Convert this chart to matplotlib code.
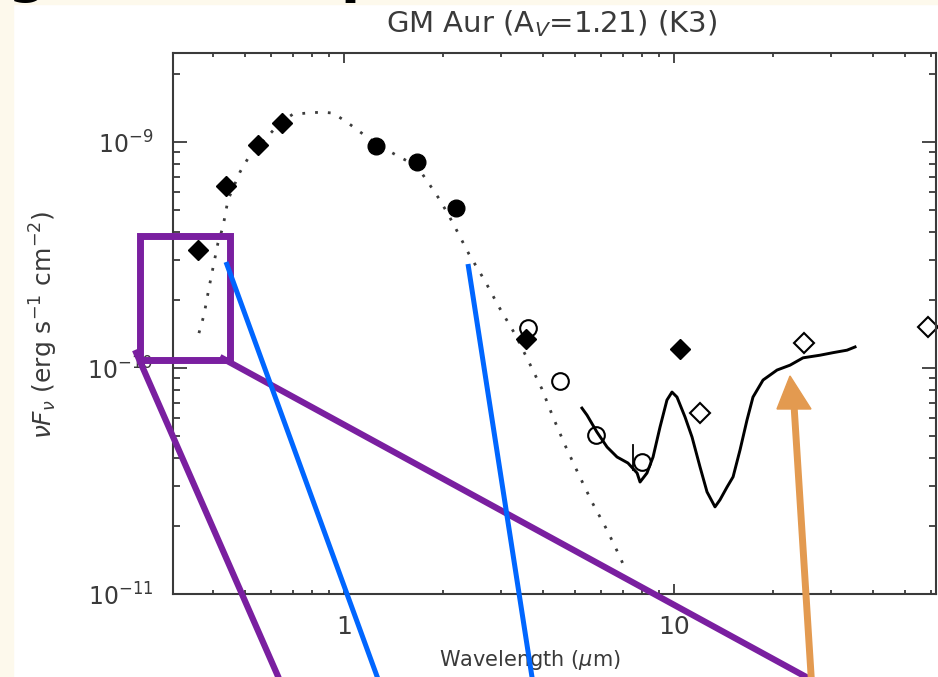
import matplotlib
matplotlib.use("Agg")
import matplotlib.pyplot as plt
from matplotlib.lines import Line2D
from matplotlib.patches import Rectangle, Polygon
from matplotlib.ticker import LogLocator, NullFormatter, FuncFormatter

# photometry (um, erg s-1 cm-2)
diam_wl = [0.36, 0.44, 0.55, 0.65, 3.56, 10.4]
diam_f = [3.33e-10, 6.38e-10, 9.7e-10, 1.21e-9, 1.34e-10, 1.22e-10]
circ_wl = [1.25, 1.66, 2.18]
circ_f = [9.6e-10, 8.2e-10, 5.1e-10]
irac_wl = [3.6, 4.5, 5.8, 8.0]
irac_f = [1.5e-10, 8.75e-11, 5.06e-11, 3.84e-11]
iras_wl = [12.0, 24.8, 58.9]
iras_f = [6.3e-11, 1.29e-10, 1.52e-10]
ebar_wl = [7.5, 7.5]
ebar_f = [3.54e-11, 4.56e-11]

# IRS spectrum
irs_wl = [5.26, 5.45, 5.84, 6.27, 6.72, 7.25, 7.73, 7.89, 8.28, 8.64, 9.07, 9.52,
          9.86, 10.21, 10.80, 11.34, 11.99, 12.59, 13.31, 13.78, 14.47, 15.10,
          15.85, 16.64, 17.35, 18.61, 20.52, 22.47, 24.60, 27.70, 30.33, 33.44, 35.36]
irs_f = [6.65e-11, 6.19e-11, 5.21e-11, 4.47e-11, 4.04e-11, 3.80e-11, 3.43e-11, 3.13e-11,
         3.43e-11, 4.04e-11, 5.48e-11, 7.22e-11, 7.83e-11, 7.44e-11, 6.07e-11, 4.95e-11,
         3.65e-11, 2.83e-11, 2.43e-11, 2.61e-11, 2.97e-11, 3.30e-11, 4.34e-11, 5.89e-11,
         7.44e-11, 8.85e-11, 9.80e-11, 1.03e-10, 1.11e-10, 1.14e-10, 1.17e-10, 1.20e-10, 1.24e-10]

# stellar photosphere
phot_wl = [0.3636, 0.3765, 0.3899, 0.4009, 0.4151, 0.4298, 0.4451, 0.4840, 0.5188,
           0.5843, 0.6398, 0.7004, 0.7724, 0.8577, 0.9262, 1.021, 1.110, 1.259, 1.458,
           1.664, 1.822, 1.927, 2.051, 2.170, 2.392, 2.675, 2.950, 3.298, 3.585, 3.981,
           4.299, 4.674, 5.119, 5.644, 6.266, 6.767, 7.104]
phot_f = [1.428e-10, 1.715e-10, 2.259e-10, 2.771e-10, 3.573e-10, 4.206e-10, 5.539e-10,
          7.365e-10, 8.76e-10, 1.052e-9, 1.214e-9, 1.330e-9, 1.344e-9, 1.358e-9, 1.344e-9,
          1.226e-9, 1.119e-9, 9.80e-10, 8.67e-10, 7.83e-10, 6.45e-10, 5.71e-10, 4.90e-10,
          4.206e-10, 3.195e-10, 2.427e-10, 1.862e-10, 1.413e-10, 1.107e-10, 8.07e-11,
          6.07e-11, 4.56e-11, 3.43e-11, 2.55e-11, 1.92e-11, 1.52e-11, 1.30e-11]

W, H = 938, 677
fig = plt.figure(figsize=(W / 100, H / 100), dpi=100)
fig.patch.set_facecolor("white")


def fx(x, y):
    return (x / W, 1 - y / H)


ax = fig.add_axes([173 / W, 1 - 594 / H, (936 - 173) / W, (594 - 53) / H])
ax.set_xscale("log")
ax.set_yscale("log")
ax.set_xlim(0.3034, 62.2)
ax.set_ylim(1e-11, 2.48e-9)

dark = "#3a3a3a"
ax.plot(phot_wl, phot_f, color="#3c3c3c", lw=2.0, ls=(0, (1, 3.6)))
ax.plot(irs_wl, irs_f, color="black", lw=2.1)
ax.plot(ebar_wl, ebar_f, color="black", lw=1.3)
ax.plot(diam_wl, diam_f, "D", color="black", ms=10, ls="none")
ax.plot(circ_wl, circ_f, "o", color="black", ms=12, ls="none")
ax.plot(irac_wl, irac_f, "o", mfc="none", mec="black", mew=1.5, ms=12, ls="none")
ax.plot(iras_wl, iras_f, "D", mfc="none", mec="black", mew=1.5, ms=10, ls="none",
        clip_on=False)

for s in ax.spines.values():
    s.set_color(dark)
    s.set_linewidth(1.5)

ax.xaxis.set_major_locator(LogLocator(base=10))
ax.xaxis.set_minor_locator(LogLocator(base=10, subs=range(2, 10)))
ax.yaxis.set_minor_locator(LogLocator(base=10, subs=range(2, 10)))
ax.xaxis.set_major_formatter(FuncFormatter(lambda v, p: "%g" % v))
ax.xaxis.set_minor_formatter(NullFormatter())
ax.yaxis.set_minor_formatter(NullFormatter())
ax.tick_params(which="both", direction="in", top=True, right=True, colors=dark,
               labelsize=17, width=1.3)
ax.tick_params(axis="x", which="major", length=7, pad=15, labelsize=18)
ax.tick_params(axis="x", which="minor", length=3)
ax.tick_params(axis="y", which="major", length=10, pad=14)
ax.tick_params(axis="y", which="minor", length=5)

ax.set_xlabel(r"Wavelength ($\mu$m)", fontsize=15, color=dark)
ax.set_ylabel(r"$\nu F_\nu$ (erg s$^{-1}$ cm$^{-2}$)", fontsize=18, color=dark)
ax.xaxis.set_label_coords(0.468, -0.10)
ax.yaxis.set_label_coords(-0.148, 0.497)

fig.text(552 / W, 1 - 24 / H, r"GM Aur (A$_V$=1.21) (K3)", ha="center", va="center",
         fontsize=21, color=dark)

# slide frame
cream = "#fdf9ec"
fig.add_artist(Rectangle((0, 0), 13 / W, 1, transform=fig.transFigure, color=cream, zorder=0))
fig.add_artist(Rectangle((0, 1 - 4 / H), 1, 4 / H, transform=fig.transFigure, color=cream, zorder=0))
for x0, ch in [(8, "g"), (340, "p")]:
    fig.text(x0 / W, 1 - 3 / H, ch, fontsize=40, fontweight="bold", va="bottom", ha="left")

# annotations
purple = "#7a1fa0"
blue = "#0066ff"
orange = "#e39a50"
x0, y0 = fx(140, 360)
x1, y1 = fx(230, 236)
fig.add_artist(Rectangle((x0, y0), x1 - x0, y1 - y0, transform=fig.transFigure,
                         fill=False, ec=purple, lw=5, zorder=10))
segs = [((135, 350), (284, 690), purple, 4.5),
        ((220, 357), (830, 690), purple, 4.5),
        ((226, 262), (382, 690), blue, 3.6),
        ((468, 264), (534, 690), blue, 3.6),
        ((812, 690), (794, 405), orange, 5.0)]
for (xa, ya), (xb, yb), c, lw in segs:
    pa, pb = fx(xa, ya), fx(xb, yb)
    fig.add_artist(Line2D([pa[0], pb[0]], [pa[1], pb[1]], transform=fig.transFigure,
                          color=c, lw=lw, solid_capstyle="butt", zorder=10))
fig.add_artist(Polygon([fx(777, 409), fx(811, 409), fx(790, 376)], closed=True,
                       transform=fig.transFigure, color=orange, zorder=10))

fig.savefig("out.png", dpi=100)
